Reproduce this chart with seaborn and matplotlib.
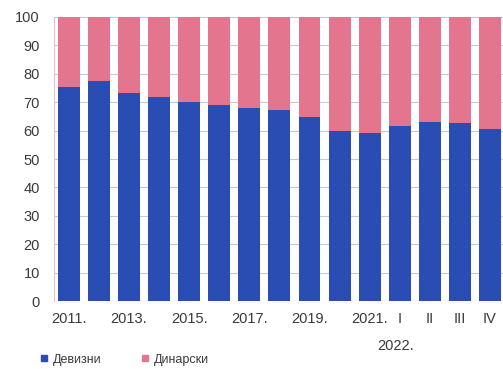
import matplotlib
matplotlib.use("Agg")
import matplotlib.pyplot as plt
import matplotlib.transforms as mtransforms
from matplotlib.lines import Line2D
import seaborn as sns
import pandas as pd

# Currency structure, %
categories = ["2011", "2012", "2013", "2014", "2015", "2016", "2017", "2018",
              "2019", "2020", "2021", "I", "II", "III", "IV"]
tick_labels = ["2011.", "", "2013.", "", "2015.", "", "2017.", "", "2019.", "",
               "2021.", "I", "II", "III", "IV"]
devizni = [75.4, 77.5, 73.1, 71.8, 70.1, 69.0, 67.8, 67.3, 64.7, 60.0, 59.3,
           61.6, 63.1, 62.6, 60.6]
dinarski = [24.6, 22.5, 26.9, 28.2, 29.9, 31.0, 32.2, 32.7, 35.3, 40.0, 40.7,
            38.4, 36.9, 37.4, 39.4]
year_2022 = "2022."
series_names = ["Девизни", "Динарски"]

blue = "#2a4db3"
pink = "#e3758f"
text_color = "#3a3a3a"

df = pd.DataFrame({"cat": categories, "dev": devizni, "din": dinarski})
df["total"] = df["dev"] + df["din"]

sns.set_style("white")
plt.rcParams["font.family"] = ["Liberation Sans", "DejaVu Sans"]

fig = plt.figure(figsize=(5.03, 3.69), dpi=100)
ax = fig.add_axes([0.107, 0.184, 0.897, 0.770])

sns.barplot(data=df, x="cat", y="total", color=pink, saturation=1, width=0.73,
            order=categories, ax=ax, zorder=2, linewidth=0, edgecolor="none")
sns.barplot(data=df, x="cat", y="dev", color=blue, saturation=1, width=0.73,
            order=categories, ax=ax, zorder=3, linewidth=0, edgecolor="none")

ax.set_ylim(0, 100)
ax.set_xlim(-0.5, len(categories) - 0.5)
ax.set_yticks(range(0, 101, 10))
ax.yaxis.grid(True, color="#c9c9cf", linewidth=0.8, zorder=0)
ax.set_axisbelow(True)
ax.set_xlabel("")
ax.set_ylabel("")
ax.set_xticks(range(len(categories)))
ax.set_xticklabels(tick_labels)
ax.tick_params(axis="both", length=0, labelsize=10.5, colors=text_color)
ax.tick_params(axis="x", pad=8)
ax.tick_params(axis="y", pad=10)

for side in ["top", "right", "bottom"]:
    ax.spines[side].set_visible(False)
ax.spines["left"].set_color("#e6c3cc")
ax.spines["left"].set_linewidth(0.8)

trans = mtransforms.blended_transform_factory(ax.transData, ax.transAxes)
ax.text(10.85, -0.135, year_2022, transform=trans, ha="center", va="top",
        fontsize=10.5, color=text_color)

handles = [Line2D([], [], marker="s", linestyle="", markersize=5, color=blue),
           Line2D([], [], marker="s", linestyle="", markersize=5, color=pink)]
fig.legend(handles, series_names, loc="lower left", bbox_to_anchor=(0.053, -0.022),
           ncol=2, frameon=False, fontsize=9, handletextpad=0.2,
           columnspacing=3.0, handlelength=1.0, labelcolor=text_color)

fig.savefig("out.png", dpi=100)
